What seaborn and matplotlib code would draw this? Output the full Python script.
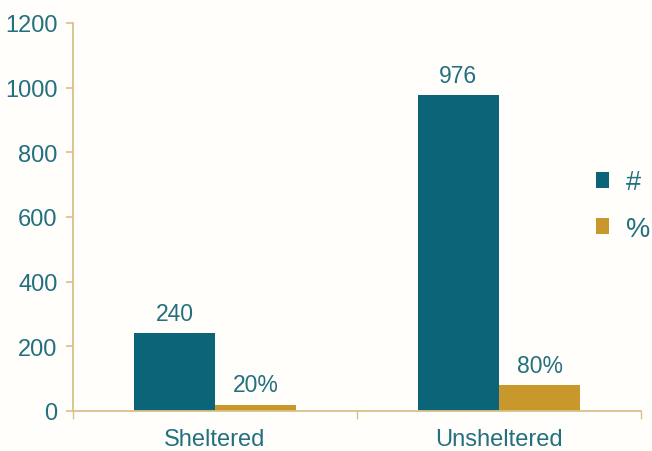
import matplotlib
matplotlib.use("Agg")
import matplotlib.pyplot as plt
import seaborn as sns
import pandas as pd
from matplotlib.patches import Patch

categories = ["Sheltered", "Unsheltered"]
series_names = ["#", "%"]
count_values = [240, 976]
pct_values = [20, 80]
count_labels = ["240", "976"]
pct_labels = ["20%", "80%"]
y_ticks = [0, 200, 400, 600, 800, 1000, 1200]

teal = "#0B6478"
gold = "#C8982C"
text_col = "#23707F"
axis_col = "#D9C08A"
bg = "#FFFEFB"

df = pd.DataFrame({
    "category": categories * 2,
    "series": [series_names[0]] * 2 + [series_names[1]] * 2,
    "value": count_values + pct_values,
})

sns.set_theme(style="white")
plt.rcParams["font.family"] = ["Liberation Sans", "DejaVu Sans"]

fig = plt.figure(figsize=(6.52, 4.52), dpi=100, facecolor=bg)
ax = fig.add_axes([0.112, 0.0885, 0.871, 0.8585])
ax.set_facecolor(bg)

sns.barplot(data=df, x="category", y="value", hue="series", order=categories,
            hue_order=series_names, palette=[teal, gold], width=0.572,
            saturation=1, ax=ax, legend=False, linewidth=0, edgecolor="none")

labels_all = [count_labels, pct_labels]
for cont, labs in zip(ax.containers, labels_all):
    ax.bar_label(cont, labels=labs, padding=6, fontsize=16.5, color=text_col)

ax.set_xlim(-0.5, 1.5)
ax.set_ylim(0, 1200)
ax.set_yticks(y_ticks)
ax.set_xlabel("")
ax.set_ylabel("")

for s in ["top", "right"]:
    ax.spines[s].set_visible(False)
for s in ["left", "bottom"]:
    ax.spines[s].set_color(axis_col)
    ax.spines[s].set_linewidth(1.3)

ax.tick_params(axis="y", which="major", left=True, length=5, width=1.2,
               color=axis_col, labelsize=17, labelcolor=text_col, pad=6)
ax.tick_params(axis="x", which="major", bottom=False, labelsize=17,
               labelcolor=text_col, pad=6)
ax.set_xticks([-0.5, 0.5, 1.5], minor=True)
ax.tick_params(axis="x", which="minor", bottom=True, length=6, width=1.0,
               color=axis_col, direction="out")

handles = [Patch(facecolor=teal, edgecolor="none"), Patch(facecolor=gold, edgecolor="none")]
leg = fig.legend(handles, series_names, loc="center left",
                 bbox_to_anchor=(0.914, 0.543), frameon=False, fontsize=19.5,
                 handlelength=0.5, handleheight=0.5, handletextpad=0.6,
                 labelspacing=0.75, borderpad=0, borderaxespad=0)
for t in leg.get_texts():
    t.set_color(text_col)

fig.savefig("out.png", dpi=100, facecolor=bg)
